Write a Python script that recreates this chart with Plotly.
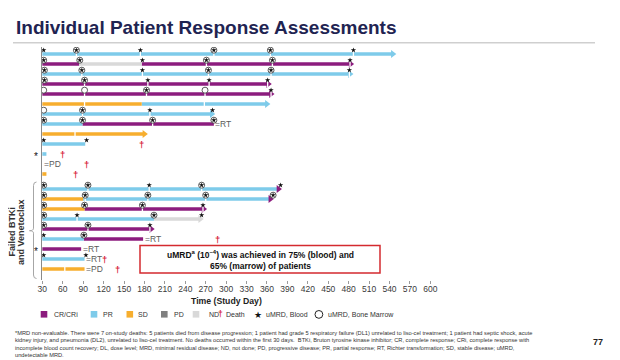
import plotly.graph_objects as go

# ---------------- data ----------------
patient_ids = list(range(1, 23))
failed_btki_ven = [0] * 13 + [1] * 9          # 1 = "Failed BTKi and Venetoclax" group

seg_patient = [1, 2, 2, 2, 3, 4, 5, 6, 6, 7, 8, 8, 9, 10, 11, 13,
               14, 14, 15, 15, 15, 16, 16, 17, 17, 18, 19, 19, 20, 21, 22]
seg_resp = ["PR", "CR", "ND", "CR", "PR", "CR", "CR", "SD", "PR", "PR", "PR", "CR", "SD", "PR", "PR", "SD",
            "PR", "CR", "SD", "PR", "CR", "SD", "CR", "PR", "ND", "CR", "PR", "CR", "CR", "PR", "SD"]
seg_start = [30, 30, 84, 176, 30, 30, 30, 30, 176, 30, 30, 89, 30, 30, 30, 30,
             30, 376, 30, 90, 364, 30, 92, 30, 194, 30, 30, 91, 30, 30, 30]
seg_end = [550, 84, 176, 488, 487, 367, 371, 176, 365, 284, 89, 282, 185, 93, 36, 36,
           376, 382, 90, 364, 370, 92, 272, 194, 267, 195, 91, 178, 87, 92, 92]
ongoing_patients = [1, 2, 3, 4, 5, 6, 7, 9, 14, 15, 16, 17, 18]

# uMRD assessments: B = blood, M = bone marrow, BM = both
mrd_patient = [1, 1, 1, 1, 1, 1,
               2, 2, 2, 2, 2, 2,
               3, 3, 3, 3, 3, 3,
               4, 4, 4, 4, 4,
               5, 5, 5, 5, 5,
               7, 7, 7, 7,
               8, 8, 8, 8,
               10, 10,
               14, 14, 14, 14, 14,
               15, 15, 15, 15, 15,
               16, 16, 16, 16,
               17, 17, 17, 17,
               18, 18, 18,
               19, 19,
               21, 21]
mrd_day = [32, 80, 174, 282, 365, 487,
           32, 85, 177, 271, 368, 482,
           33, 88, 177, 274, 366, 481,
           33, 92, 185, 275, 361,
           32, 92, 183, 269, 366,
           32, 89, 188, 280,
           32, 89, 192, 282,
           32, 95,
           32, 97, 187, 264, 380,
           32, 93, 185, 270, 369,
           32, 92, 177, 266,
           32, 81, 194, 264,
           32, 97, 188,
           32, 91,
           32, 94]
mrd_type = ["B", "BM", "B", "BM", "BM", "B",
            "BM", "BM", "B", "BM", "BM", "B",
            "BM", "BM", "B", "BM", "BM", "B",
            "BM", "BM", "B", "B", "B",
            "M", "M", "BM", "M", "B",
            "M", "BM", "B", "B",
            "BM", "BM", "BM", "BM",
            "B", "B",
            "BM", "BM", "B", "BM", "B",
            "BM", "BM", "BM", "BM", "BM",
            "BM", "BM", "BM", "B",
            "BM", "B", "BM", "B",
            "BM", "BM", "B",
            "B", "BM",
            "B", "B"]

visit_gap_patient = [6, 6, 9, 22]
visit_gap_day = [92, 268, 78, 63]

death_patient = [10, 11, 12, 13, 19, 21, 22]
death_day = [176, 59, 95, 78, 287, 121, 141]

event_patient = [8, 12, 19, 20, 21, 22]
event_day = [282, 30, 178, 87, 92, 92]
event_label = ["RT", "PD", "RT", "RT", "RT", "PD"]

mrd_nonevaluable = [11, 20]

x_ticks = list(range(30, 601, 30))

resp_names = ["CR/CRi", "PR", "SD", "PD", "ND"]
resp_keys = ["CR", "PR", "SD", "PD", "ND"]
resp_colors = {"CR": "#8C1C7E", "PR": "#7ECBEA", "SD": "#F7AE2E", "PD": "#808080", "ND": "#D9D9D9"}

# ---------------- layout geometry ----------------
# the page has an 8px body margin, so the figure is drawn 8px smaller
PAGE_OFF = 8
W, H = 620 - PAGE_OFF, 360 - PAGE_OFF
PLOT_L, PLOT_R, PLOT_T, PLOT_B = 42, 439, 47, 280      # in screen pixels
ML, MT = PLOT_L - PAGE_OFF, PLOT_T - PAGE_OFF
MR, MB = W - (PLOT_R - PAGE_OFF), H - (PLOT_B - PAGE_OFF)
X_MIN, X_MAX = 29.5, 612.7
Y_TOP, Y_BOT = -0.7, 22.6
PW = PLOT_R - PLOT_L
PH = PLOT_B - PLOT_T
PX_PER_DAY = PW / (X_MAX - X_MIN)
FONT = "Liberation Sans, Arial, Helvetica, sans-serif"


def px(x):
    return (x - PLOT_L) / PW


def py(y):
    return (PLOT_B - y) / PH


def pos(p):
    return (p - 1) + 0.5 * failed_btki_ven[p - 1]


fig = go.Figure()

last_end = {}
last_resp = {}
for p, r, s, e in zip(seg_patient, seg_resp, seg_start, seg_end):
    if e >= last_end.get(p, -1):
        last_end[p] = e
        last_resp[p] = r

ARROW_BACK = 3.5 / PX_PER_DAY

# bars
for key in resp_keys:
    xs, ys = [], []
    for p, r, s, e in zip(seg_patient, seg_resp, seg_start, seg_end):
        if r != key:
            continue
        end = e
        if p in ongoing_patients and e == last_end[p]:
            end = e - ARROW_BACK
        xs += [s, end, None]
        ys += [pos(p), pos(p), None]
    if xs:
        fig.add_trace(go.Scatter(x=xs, y=ys, mode="lines", hoverinfo="skip",
                                 line=dict(color=resp_colors[key], width=3.6), showlegend=False))

# arrow heads
ax_, ay_, ac_ = [], [], []
for p in ongoing_patients:
    ax_.append(last_end[p] - ARROW_BACK)
    ay_.append(pos(p))
    ac_.append(resp_colors[last_resp[p]])
fig.add_trace(go.Scatter(x=ax_, y=ay_, mode="markers", hoverinfo="skip", showlegend=False,
                         marker=dict(symbol="triangle-right", size=7, color=ac_, line=dict(width=0))))

# white visit gaps in bars
gx, gy = [], []
for p, d in list(zip(mrd_patient, mrd_day)) + list(zip(visit_gap_patient, visit_gap_day)):
    if d < 40:
        continue
    for sp, s, e in zip(seg_patient, seg_start, seg_end):
        if sp == p and s + 2 < d < e - 4:
            gx.append(d)
            gy.append(pos(p))
            break
fig.add_trace(go.Scatter(x=gx, y=gy, mode="markers", hoverinfo="skip", showlegend=False,
                         marker=dict(symbol="line-ns", size=5, line=dict(color="white", width=1.3))))

# uMRD markers
MRD_DY = -0.38
cx = [d for d, t in zip(mrd_day, mrd_type) if "M" in t]
cy = [pos(p) + MRD_DY for p, t in zip(mrd_patient, mrd_type) if "M" in t]
fig.add_trace(go.Scatter(x=cx, y=cy, mode="markers", hoverinfo="skip", showlegend=False,
                         marker=dict(symbol="circle", size=6, color="white",
                                     line=dict(color="#333333", width=0.8))))
sx = [d for d, t in zip(mrd_day, mrd_type) if "B" in t]
sy = [pos(p) + MRD_DY for p, t in zip(mrd_patient, mrd_type) if "B" in t]
fig.add_trace(go.Scatter(x=sx, y=sy, mode="markers", hoverinfo="skip", showlegend=False,
                         marker=dict(symbol="star", size=4, color="#111111", line=dict(width=0))))

annotations = []
# deaths
for p, d in zip(death_patient, death_day):
    annotations.append(dict(x=d, y=pos(p), xref="x", yref="y", text="<b>†</b>", showarrow=False,
                            font=dict(family=FONT, size=9.5, color="#D7263D"),
                            xanchor="center", yanchor="middle"))
# events (RT / PD)
for p, d, lab in zip(event_patient, event_day, event_label):
    annotations.append(dict(x=d, y=pos(p), xref="x", yref="y", text="=" + lab, showarrow=False,
                            font=dict(family=FONT, size=8.5, color="#5a5a5a"),
                            xanchor="left", yanchor="middle", xshift=-0.5))
# MRD non-evaluable
for p in mrd_nonevaluable:
    annotations.append(dict(x=X_MIN, y=pos(p), xref="x", yref="y", text="*", showarrow=False,
                            font=dict(family=FONT, size=10, color="#111111"),
                            xanchor="right", yanchor="middle", xshift=-2, yshift=-2))


def ann(text, x, y, size, color="#333333", xanchor="left", yanchor="middle", bold=False, **kw):
    annotations.append(dict(x=px(x), y=py(y), xref="paper", yref="paper",
                            text=("<b>%s</b>" % text) if bold else text, showarrow=False,
                            font=dict(family=FONT, size=size, color=color),
                            xanchor=xanchor, yanchor=yanchor, **kw))


# title
ann("Individual Patient Response Assessments", 14, 28, 19, color="#1F2452", bold=True)
# axis title
ann("Time (Study Day)", 226, 301, 8.7, color="#222222", xanchor="center", bold=True)
# group label
ann("Failed BTKi", 11.5, 232, 9, color="#333333", xanchor="center", bold=True, textangle=-90)
ann("and Venetoclax", 21, 232, 9, color="#333333", xanchor="center", bold=True, textangle=-90)
# callout text
ann("uMRD<sup>a</sup> (10<sup>–4</sup>) was achieved in 75% (blood) and<br>65% (marrow) of patients",
    260, 259.5, 8.5, color="#111111", xanchor="center", bold=True)

# legend
shapes = []
leg_sq_x = [40.7, 90.7, 126.5, 161, 192.7]
leg_tx_x = [51.7, 101, 135.7, 171.7, 206.7]
for k, name, x0, tx in zip(resp_keys, resp_names, leg_sq_x, leg_tx_x):
    shapes.append(dict(type="rect", xref="paper", yref="paper", x0=px(x0), x1=px(x0 + 6.6),
                       y0=py(317.6), y1=py(311), fillcolor=resp_colors[k], line=dict(width=0)))
    ann(name, tx, 314.3, 7, color="#333333")
ann("<b>†</b>", 220, 313.5, 8.5, color="#D7263D", xanchor="center")
ann("Death", 223.5, 314.3, 7, color="#333333")
ann("★", 258.3, 314.5, 9, color="#111111", xanchor="center")
ann("uMRD, Blood", 264, 314.3, 7, color="#333333")
shapes.append(dict(type="circle", xref="paper", yref="paper", x0=px(315), x1=px(322.8),
                   y0=py(318.3), y1=py(310.5), line=dict(color="#222222", width=1), fillcolor="white"))
ann("uMRD, Bone Marrow", 325.5, 314.3, 7, color="#333333")

# footnote
foot = ("*MRD non-evaluable. There were 7 on-study deaths: 5 patients died from disease progression; 1 patient had grade 5 "
        "respiratory failure (DL1) unrelated to liso-cel treatment; 1 patient had septic shock, acute<br>"
        "kidney injury, and pneumonia (DL2), unrelated to liso-cel treatment. No deaths occurred within the first 30 days.  "
        "BTKi, Bruton tyrosine kinase inhibitor; CR, complete response; CRi, complete response with<br>"
        "incomplete blood count recovery; DL, dose level; MRD, minimal residual disease; ND, not done; PD, progressive disease; "
        "PR, partial response; RT, Richter transformation; SD, stable disease; uMRD,<br>"
        "undetectable MRD.")
ann(foot, 13, 327.5, 5.7, color="#333333", yanchor="top", align="left")
ann("77", 598, 341.5, 9, color="#222222", xanchor="center", bold=True)

# title underline
shapes.append(dict(type="line", xref="paper", yref="paper", x0=px(13), x1=px(595), y0=py(42.7), y1=py(42.7),
                   line=dict(color="#CFCFCF", width=1.5)))


# bracket
def P(x, y):
    return "%.5f,%.5f" % (px(x), py(y))


bracket = ("M " + P(36.5, 182) + " Q " + P(33.5, 182) + " " + P(33.5, 185.5) + " L " + P(33.5, 228.2) +
           " Q " + P(33.5, 230.7) + " " + P(29.5, 230.7) + " Q " + P(33.5, 230.7) + " " + P(33.5, 233.2) +
           " L " + P(33.5, 275) + " Q " + P(33.5, 278.5) + " " + P(36.5, 278.5))
shapes.append(dict(type="path", xref="paper", yref="paper", path=bracket, line=dict(color="#A6A6A6", width=1)))
# callout box
shapes.append(dict(type="rect", xref="paper", yref="paper", x0=px(140), x1=px(380), y0=py(273), y1=py(245.5),
                   line=dict(color="#D42A2F", width=1.5), fillcolor="rgba(255,255,255,0)", layer="below"))

fig.update_layout(
    width=W, height=H,
    margin=dict(l=ML, r=MR, t=MT, b=MB, pad=0),
    paper_bgcolor="white", plot_bgcolor="white",
    showlegend=False,
    font=dict(family=FONT, size=8.5, color="#333333"),
    xaxis=dict(range=[X_MIN, X_MAX], tickvals=x_ticks, ticks="outside", ticklen=3, tickwidth=1,
               tickcolor="#9a9a9a", tickfont=dict(family=FONT, size=8.5, color="#3a3a3a"),
               ticklabelstandoff=-2,
               showgrid=False, zeroline=False, showline=False, fixedrange=True),
    yaxis=dict(range=[Y_BOT, Y_TOP], showline=True, linecolor="#8a8a8a", linewidth=1,
               showticklabels=False, ticks="", showgrid=False, zeroline=False, fixedrange=True),
    shapes=shapes,
    annotations=annotations,
)

fig.write_html("out.html")
